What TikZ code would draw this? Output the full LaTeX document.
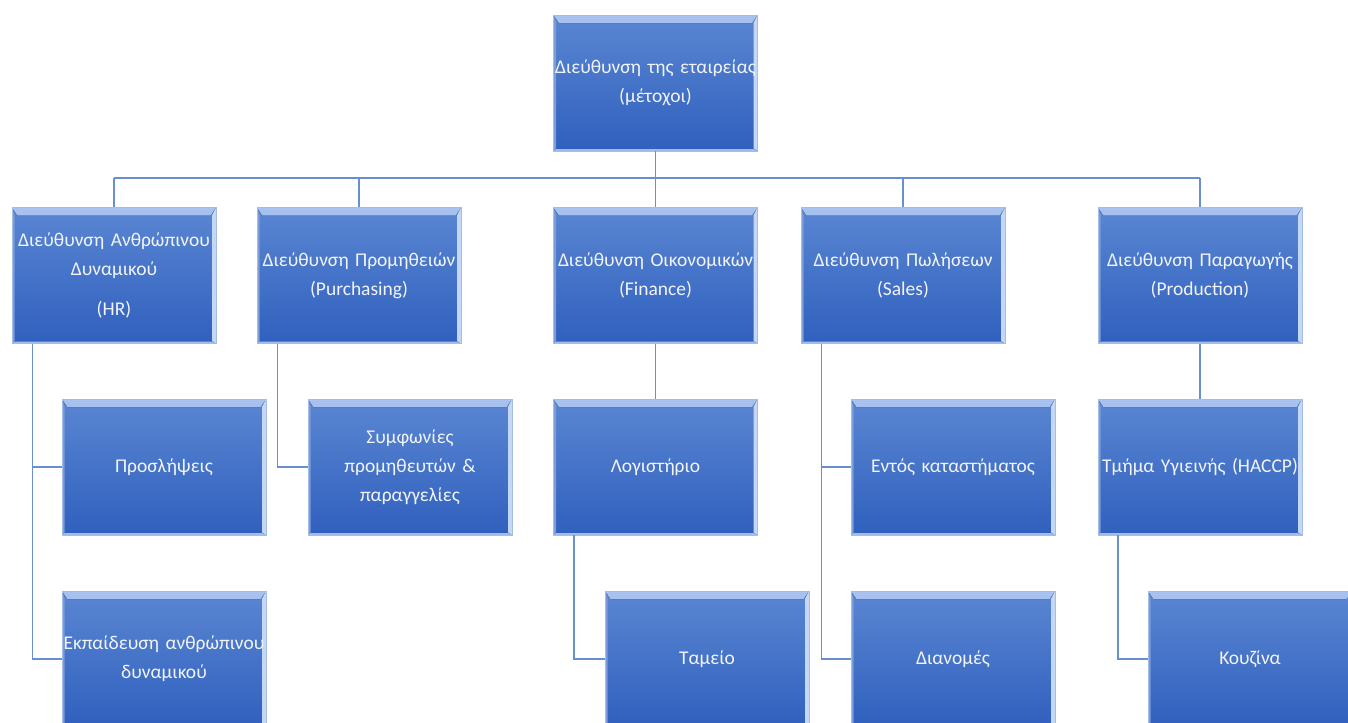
\documentclass[tikz,border=0pt]{standalone}
\usepackage{fontspec}
\setmainfont{Carlito}
\definecolor{boxtop}{HTML}{5A86D2}
\definecolor{boxbot}{HTML}{3060BE}
\definecolor{bevtop}{HTML}{A9C3F0}
\definecolor{bevside}{HTML}{C4D7F5}
\definecolor{boxedge}{HTML}{A3BDE8}
\definecolor{conncol}{HTML}{6A8FD0}
\definecolor{txtcol}{HTML}{F2F4F8}
\newcommand{\boxfont}{\fontsize{14.6pt}{21.75pt}\selectfont}
\tikzset{
  bx/.style={rectangle, minimum width=153pt, minimum height=102pt, inner sep=0pt,
    text width=153pt, align=center, font=\boxfont, text=txtcol,
    top color=boxtop, bottom color=boxbot, draw=boxedge, line width=0.4pt,
    path picture={
      \fill[top color=bevtop, bottom color=boxtop]
        (path picture bounding box.north west) -- (path picture bounding box.north east)
        -- ([xshift=-4pt,yshift=-6pt]path picture bounding box.north east)
        -- ([xshift=4pt,yshift=-6pt]path picture bounding box.north west) -- cycle;
      \fill[bevside]
        (path picture bounding box.north east) -- (path picture bounding box.south east)
        -- ([xshift=-3pt,yshift=2pt]path picture bounding box.south east)
        -- ([xshift=-3pt,yshift=-6pt]path picture bounding box.north east) -- cycle;
      \fill[boxtop!80!white]
        (path picture bounding box.north west) -- (path picture bounding box.south west)
        -- ([xshift=2pt,yshift=2pt]path picture bounding box.south west)
        -- ([xshift=2pt,yshift=-6pt]path picture bounding box.north west) -- cycle;
      \fill[boxedge]
        (path picture bounding box.south west) -- (path picture bounding box.south east)
        -- ([xshift=-3pt,yshift=1.5pt]path picture bounding box.south east)
        -- ([xshift=2pt,yshift=1.5pt]path picture bounding box.south west) -- cycle;
    }},
  conn/.style={draw=conncol, line width=1.15pt}
}
\begin{document}
\begin{tikzpicture}[x=0.75pt, y=-0.75pt]
\useasboundingbox (0,0) rectangle (1348,722);
\clip (0,0) rectangle (1348,722);
\node[bx] (top) at (655.5,83) {Διεύθυνση της εταιρείας\\(μέτοχοι)};
\node[bx] (hr) at (114,275.5) {Διεύθυνση Ανθρώπινου\\Δυναμικού\\[8pt](HR)};
\node[bx] (pur) at (359,275.5) {Διεύθυνση Προμηθειών\\(Purchasing)};
\node[bx] (fin) at (655.5,275.5) {Διεύθυνση Οικονομικών\\(Finance)};
\node[bx] (sal) at (903,275.5) {Διεύθυνση Πωλήσεων\\(Sales)};
\node[bx] (pro) at (1200,275.5) {Διεύθυνση Παραγωγής\\(Production)};
\node[bx] (pros) at (164,467) {Προσλήψεις};
\node[bx] (sym) at (410,467) {Συμφωνίες\\προμηθευτών \&\\παραγγελίες};
\node[bx] (log) at (655.5,467) {Λογιστήριο};
\node[bx] (ent) at (953,467) {Εντός καταστήματος};
\node[bx] (hyg) at (1200,467) {Τμήμα Υγιεινής (HACCP)};
\node[bx] (ekp) at (164,659) {Εκπαίδευση ανθρώπινου\\δυναμικού};
\node[bx] (tam) at (707,659) {Ταμείο};
\node[bx] (dia) at (953,659) {Διανομές};
\node[bx] (kou) at (1250,659) {Κουζίνα};
\coordinate (bus) at (655.5,178);
\draw[conn] (top.south) -- (top.south |- bus);
\draw[conn] (hr.north |- bus) -- (pro.north |- bus);
\draw[conn] (hr.north |- bus) -- (hr.north);
\draw[conn] (pur.north |- bus) -- (pur.north);
\draw[conn] (fin.north |- bus) -- (fin.north);
\draw[conn] (sal.north |- bus) -- (sal.north);
\draw[conn] (pro.north |- bus) -- (pro.north);
\draw[conn] ([xshift=15.5pt]hr.south west) |- (pros.west);
\draw[conn] ([xshift=15.5pt]hr.south west) |- (ekp.west);
\draw[conn] ([xshift=15.5pt]pur.south west) |- (sym.west);
\draw[conn] (fin.south) -- (log.north);
\draw[conn] ([xshift=15.5pt]log.south west) |- (tam.west);
\draw[conn] ([xshift=15.5pt]sal.south west) |- (ent.west);
\draw[conn] ([xshift=15.5pt]sal.south west) |- (dia.west);
\draw[conn] (pro.south) -- (hyg.north);
\draw[conn] ([xshift=15pt]hyg.south west) |- (kou.west);
\end{tikzpicture}
\end{document}
